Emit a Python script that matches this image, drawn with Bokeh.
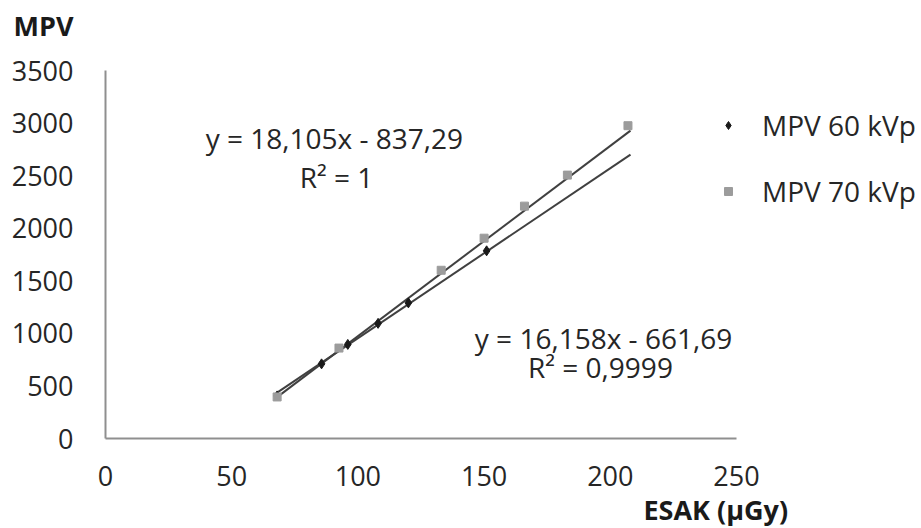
import numpy as np
from bokeh.plotting import figure
from bokeh.models import Range1d, Label, Legend, LegendItem, FixedTicker, Title
from bokeh.embed import file_html
from bokeh.resources import INLINE

# ---- data ----
esak_60 = [68, 85.6, 96, 108, 120, 151]
mpv_60 = [405, 710, 895, 1095, 1290, 1785]
esak_70 = [68, 92.5, 133, 150, 166, 183, 207]
mpv_70 = [395, 860, 1600, 1905, 2210, 2505, 2975]

fit_60 = (16.158, -661.69)
fit_70 = (18.105, -837.29)
trend_x = [68, 208]

x_ticks = [0, 50, 100, 150, 200, 250]
y_ticks = [0, 500, 1000, 1500, 2000, 2500, 3000, 3500]

eq_70 = ["y = 18,105x - 837,29", "R² = 1"]
eq_60 = ["y = 16,158x - 661,69", "R² = 0,9999"]
legend_names = ["MPV 60 kVp", "MPV 70 kVp"]
x_title = "ESAK (µGy)"
y_title = "MPV"

FONT = "Open Sans"
TXT = "#262626"
FS_TICK = "27px"
FS = "28px"

W, H = 921, 528
LEFT, TOP, BOTTOM = 105, 49, 90
AX_RIGHT_PX, AX_TOP_PX = 736, 70          # where 250 and 3500 sit on the page
frame_w = W - LEFT
frame_h = H - TOP - BOTTOM
x_end = 250 * frame_w / (AX_RIGHT_PX - LEFT)
y_end = 3500 * frame_h / (H - BOTTOM - AX_TOP_PX)

p = figure(width=W, height=H, output_backend="svg", toolbar_location=None,
           x_range=Range1d(0, x_end), y_range=Range1d(0, y_end),
           min_border_left=LEFT, min_border_right=0, min_border_top=TOP, min_border_bottom=BOTTOM)
p.outline_line_color = None
p.xgrid.visible = False
p.ygrid.visible = False
p.background_fill_color = "white"

for ax in (p.xaxis[0], p.yaxis[0]):
    ax.axis_line_color = "#8f8f8f"
    ax.axis_line_width = 2
    ax.major_tick_line_color = None
    ax.minor_tick_line_color = None
    ax.major_tick_out = 0
    ax.major_tick_in = 0
    ax.major_label_text_font = FONT
    ax.major_label_text_font_size = FS_TICK
    ax.major_label_text_color = TXT
p.xaxis[0].ticker = FixedTicker(ticks=x_ticks)
p.yaxis[0].ticker = FixedTicker(ticks=y_ticks)
p.xaxis[0].bounds = (0, 250)
p.yaxis[0].bounds = (0, 3500)
p.xaxis[0].major_label_standoff = 27
p.yaxis[0].major_label_standoff = 32

# axis titles
p.title.text = y_title
p.title.align = "left"
p.title.vertical_align = "top"
p.title.offset = -92
p.title.standoff = 8
p.title.text_font = FONT
p.title.text_font_size = FS_TICK
p.title.text_font_style = "bold"
p.title.text_color = "#1a1a1a"

p.add_layout(Title(text=x_title, align="left", vertical_align="bottom", offset=538, standoff=0,
                   text_font=FONT, text_font_size=FS_TICK, text_font_style="bold",
                   text_color="#1a1a1a"), "below")

tx = np.array(trend_x, dtype=float)
p.line(tx, fit_70[0] * tx + fit_70[1], line_color="#404040", line_width=2)
p.line(tx, fit_60[0] * tx + fit_60[1], line_color="#404040", line_width=2)

r60 = p.scatter(esak_60, mpv_60, marker="diamond", size=10, fill_color="#1a1a1a", line_color="#1a1a1a")
r70 = p.scatter(esak_70, mpv_70, marker="square", size=8, fill_color="#9c9c9c", line_color="#9c9c9c")

lab_style = dict(text_font=FONT, text_font_size=FS, text_color=TXT, text_align="center", text_baseline="middle")
p.add_layout(Label(x=90.7, y=2860, text=eq_70[0], **lab_style))
p.add_layout(Label(x=91.5, y=2490, text=eq_70[1], **lab_style))
p.add_layout(Label(x=197.3, y=960, text=eq_60[0], **lab_style))
p.add_layout(Label(x=196.1, y=679, text=eq_60[1], **lab_style))

legend = Legend(items=[LegendItem(label=legend_names[0], renderers=[r60]),
                       LegendItem(label=legend_names[1], renderers=[r70])],
                location=(613, 228), orientation="vertical",
                padding=0, margin=0, spacing=28,
                glyph_width=20, glyph_height=30, label_height=30, label_standoff=24,
                label_text_font=FONT, label_text_font_size=FS, label_text_color=TXT,
                border_line_color=None, background_fill_alpha=0)
p.add_layout(legend)

open("out.html", "w").write(file_html(p, INLINE))
